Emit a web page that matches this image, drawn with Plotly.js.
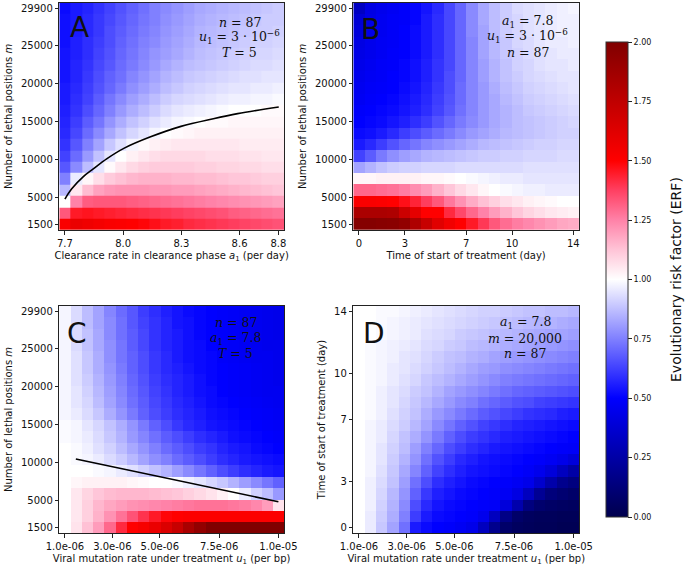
<!DOCTYPE html>
<html><head><meta charset="utf-8">
<script src="https://cdn.plot.ly/plotly-3.0.1.min.js"></script>
<style>html,body{margin:0;padding:0;background:#fff}#chart{width:688px;height:570px}</style>
</head><body><div id="chart"></div>
<script>
// ---- axis values (cell centres) ----
const aVals=[7.700,7.758,7.816,7.874,7.932,7.989,8.047,8.105,8.163,8.221,8.279,8.337,8.395,8.453,8.511,8.568,8.626,8.684,8.742,8.800];
const mVals=[1500,2995,4489,5984,7479,8974,10468,11963,13458,14953,16447,17942,19437,20932,22426,23921,25416,26911,28405,29900];
const tVals=[0,0.737,1.474,2.211,2.947,3.684,4.421,5.158,5.895,6.632,7.368,8.105,8.842,9.579,10.316,11.053,11.789,12.526,13.263,14];
const uVals=[1.000e-6,1.474e-6,1.947e-6,2.421e-6,2.895e-6,3.368e-6,3.842e-6,4.316e-6,4.789e-6,5.263e-6,5.737e-6,6.211e-6,6.684e-6,7.158e-6,7.632e-6,8.105e-6,8.579e-6,9.053e-6,9.526e-6,1.000e-5];

// ---- ERF grids, rows from bottom (first y value) to top ----
const erfA=[
[1.52,1.58,1.56,1.54,1.52,1.51,1.50,1.49,1.47,1.45,1.44,1.42,1.41,1.40,1.39,1.38,1.37,1.36,1.35,1.34],
[1.33,1.45,1.46,1.45,1.44,1.43,1.42,1.41,1.40,1.39,1.38,1.37,1.36,1.35,1.34,1.32,1.31,1.30,1.29,1.28],
[1.00,1.25,1.32,1.33,1.33,1.33,1.32,1.31,1.30,1.29,1.28,1.27,1.26,1.25,1.24,1.23,1.22,1.21,1.20,1.19],
[0.86,1.05,1.14,1.19,1.21,1.22,1.22,1.22,1.21,1.21,1.20,1.20,1.19,1.18,1.17,1.16,1.15,1.14,1.13,1.12],
[0.75,0.96,1.02,1.07,1.11,1.13,1.15,1.16,1.16,1.16,1.15,1.15,1.14,1.14,1.13,1.12,1.12,1.11,1.10,1.10],
[0.67,0.77,0.87,0.95,1.01,1.05,1.08,1.10,1.11,1.11,1.11,1.11,1.10,1.10,1.09,1.09,1.08,1.08,1.07,1.07],
[0.63,0.71,0.80,0.88,0.95,1.00,1.03,1.05,1.07,1.08,1.08,1.08,1.08,1.07,1.07,1.07,1.06,1.06,1.05,1.05],
[0.60,0.67,0.75,0.82,0.89,0.94,0.98,1.01,1.03,1.04,1.05,1.05,1.05,1.05,1.05,1.05,1.04,1.04,1.04,1.04],
[0.58,0.64,0.71,0.77,0.83,0.88,0.92,0.95,0.98,1.00,1.01,1.02,1.03,1.03,1.03,1.03,1.03,1.03,1.03,1.03],
[0.57,0.62,0.68,0.73,0.79,0.84,0.88,0.91,0.94,0.96,0.98,0.99,1.00,1.01,1.01,1.02,1.02,1.02,1.02,1.02],
[0.56,0.60,0.65,0.70,0.75,0.80,0.84,0.87,0.90,0.93,0.95,0.96,0.97,0.98,0.99,1.00,1.00,1.00,1.01,1.01],
[0.55,0.59,0.63,0.68,0.73,0.77,0.81,0.84,0.87,0.90,0.92,0.93,0.94,0.95,0.96,0.97,0.97,0.98,0.98,0.99],
[0.55,0.58,0.62,0.66,0.70,0.74,0.78,0.81,0.84,0.87,0.89,0.91,0.92,0.93,0.94,0.95,0.95,0.96,0.96,0.97],
[0.54,0.57,0.61,0.65,0.69,0.72,0.76,0.79,0.82,0.85,0.87,0.89,0.90,0.91,0.92,0.93,0.94,0.94,0.95,0.95],
[0.54,0.57,0.60,0.64,0.67,0.71,0.74,0.77,0.80,0.83,0.85,0.87,0.88,0.89,0.90,0.91,0.92,0.93,0.93,0.94],
[0.54,0.56,0.59,0.63,0.66,0.70,0.73,0.76,0.79,0.81,0.83,0.85,0.87,0.88,0.89,0.90,0.91,0.92,0.92,0.93],
[0.53,0.56,0.59,0.62,0.65,0.69,0.72,0.75,0.77,0.80,0.82,0.84,0.86,0.87,0.88,0.89,0.90,0.91,0.91,0.92],
[0.53,0.55,0.58,0.61,0.65,0.68,0.71,0.74,0.76,0.79,0.81,0.83,0.85,0.86,0.87,0.88,0.89,0.90,0.90,0.91],
[0.53,0.55,0.58,0.61,0.64,0.67,0.70,0.73,0.75,0.78,0.80,0.82,0.84,0.85,0.86,0.87,0.88,0.89,0.90,0.90],
[0.52,0.55,0.57,0.60,0.63,0.66,0.69,0.72,0.75,0.77,0.79,0.81,0.83,0.84,0.85,0.86,0.87,0.88,0.89,0.90]];

const erfB=[
[1.98,1.98,1.97,1.96,1.93,1.82,1.72,1.62,1.55,1.50,1.45,1.39,1.33,1.29,1.26,1.24,1.22,1.20,1.18,1.17],
[1.83,1.83,1.83,1.82,1.70,1.60,1.50,1.50,1.42,1.36,1.30,1.25,1.20,1.16,1.12,1.09,1.07,1.05,1.04,1.03],
[1.52,1.52,1.51,1.50,1.47,1.43,1.38,1.33,1.27,1.22,1.17,1.13,1.10,1.07,1.05,1.03,1.02,1.01,1.00,1.00],
[1.30,1.30,1.29,1.28,1.26,1.23,1.20,1.16,1.12,1.08,1.05,1.02,1.00,0.99,0.98,0.97,0.97,0.96,0.96,0.96],
[1.02,1.02,1.03,1.03,1.03,1.03,1.02,1.02,1.01,1.00,0.99,0.98,0.97,0.96,0.96,0.95,0.95,0.95,0.95,0.95],
[0.82,0.85,0.88,0.90,0.91,0.91,0.92,0.92,0.92,0.93,0.93,0.93,0.93,0.93,0.93,0.94,0.94,0.94,0.94,0.94],
[0.63,0.68,0.74,0.78,0.81,0.83,0.85,0.86,0.87,0.88,0.89,0.90,0.90,0.91,0.91,0.92,0.92,0.92,0.93,0.93],
[0.55,0.58,0.62,0.66,0.70,0.73,0.76,0.78,0.80,0.82,0.84,0.86,0.87,0.88,0.89,0.90,0.91,0.91,0.92,0.92],
[0.52,0.53,0.55,0.58,0.62,0.65,0.68,0.71,0.74,0.77,0.80,0.82,0.84,0.86,0.87,0.88,0.89,0.90,0.91,0.91],
[0.50,0.51,0.52,0.54,0.56,0.59,0.62,0.66,0.70,0.74,0.77,0.80,0.83,0.85,0.87,0.88,0.89,0.90,0.91,0.92],
[0.49,0.50,0.51,0.52,0.54,0.56,0.59,0.63,0.67,0.72,0.76,0.80,0.83,0.85,0.87,0.89,0.90,0.91,0.92,0.93],
[0.47,0.49,0.50,0.51,0.53,0.55,0.58,0.62,0.66,0.71,0.76,0.80,0.83,0.86,0.88,0.90,0.91,0.92,0.93,0.94],
[0.46,0.48,0.49,0.50,0.52,0.54,0.57,0.61,0.65,0.71,0.76,0.80,0.84,0.87,0.89,0.91,0.92,0.93,0.94,0.95],
[0.45,0.47,0.48,0.50,0.51,0.53,0.56,0.60,0.65,0.70,0.76,0.81,0.85,0.88,0.90,0.92,0.93,0.94,0.95,0.95],
[0.44,0.46,0.48,0.49,0.51,0.53,0.56,0.60,0.64,0.70,0.76,0.81,0.85,0.88,0.91,0.92,0.94,0.95,0.95,0.96],
[0.43,0.45,0.47,0.49,0.50,0.52,0.55,0.59,0.64,0.70,0.76,0.82,0.86,0.89,0.91,0.93,0.94,0.95,0.96,0.96],
[0.42,0.45,0.47,0.48,0.50,0.52,0.55,0.59,0.64,0.70,0.76,0.82,0.86,0.89,0.92,0.93,0.95,0.96,0.96,0.97],
[0.40,0.44,0.46,0.48,0.50,0.52,0.55,0.59,0.64,0.70,0.77,0.82,0.87,0.90,0.92,0.94,0.95,0.96,0.97,0.97],
[0.38,0.43,0.46,0.48,0.49,0.51,0.55,0.59,0.64,0.70,0.77,0.83,0.87,0.90,0.92,0.94,0.95,0.96,0.97,0.97],
[0.33,0.42,0.45,0.47,0.49,0.51,0.54,0.58,0.64,0.70,0.77,0.83,0.87,0.90,0.93,0.94,0.95,0.96,0.97,0.98]];

const erfC=[
[1.00,1.06,1.13,1.20,1.30,1.42,1.50,1.53,1.58,1.64,1.72,1.84,1.93,2.00,2.00,2.00,2.00,2.00,2.00,2.00],
[1.00,1.05,1.10,1.16,1.22,1.28,1.34,1.40,1.45,1.49,1.50,1.51,1.51,1.51,1.51,1.51,1.51,1.51,1.51,1.51],
[1.00,1.05,1.10,1.15,1.18,1.20,1.22,1.23,1.24,1.25,1.26,1.27,1.28,1.28,1.28,1.27,1.26,1.24,1.20,1.06],
[1.00,1.05,1.09,1.12,1.14,1.15,1.15,1.15,1.14,1.13,1.12,1.10,1.08,1.06,1.03,1.00,0.96,0.91,0.87,0.80],
[1.00,1.02,1.03,1.03,1.03,1.03,1.02,1.01,1.00,1.00,0.99,0.97,0.95,0.92,0.89,0.85,0.81,0.77,0.73,0.69],
[1.00,1.00,1.00,0.99,0.98,0.96,0.94,0.91,0.88,0.85,0.81,0.77,0.73,0.69,0.65,0.62,0.59,0.57,0.55,0.54],
[1.00,0.99,0.98,0.96,0.93,0.90,0.86,0.82,0.78,0.75,0.71,0.68,0.65,0.62,0.59,0.57,0.55,0.54,0.53,0.52],
[1.00,0.99,0.97,0.94,0.91,0.87,0.83,0.79,0.75,0.71,0.68,0.65,0.62,0.60,0.57,0.55,0.54,0.52,0.51,0.50],
[0.99,0.98,0.96,0.93,0.89,0.85,0.80,0.76,0.72,0.68,0.65,0.62,0.59,0.57,0.55,0.53,0.52,0.51,0.50,0.49],
[0.99,0.98,0.95,0.92,0.88,0.84,0.79,0.74,0.69,0.65,0.61,0.58,0.56,0.54,0.53,0.52,0.51,0.50,0.49,0.48],
[0.98,0.96,0.93,0.89,0.84,0.79,0.74,0.69,0.65,0.62,0.59,0.57,0.55,0.53,0.52,0.51,0.50,0.49,0.48,0.47],
[0.98,0.95,0.92,0.87,0.82,0.77,0.72,0.68,0.64,0.61,0.58,0.56,0.54,0.52,0.51,0.50,0.49,0.48,0.47,0.46],
[0.98,0.95,0.91,0.86,0.81,0.76,0.71,0.67,0.63,0.60,0.57,0.55,0.53,0.52,0.50,0.49,0.48,0.47,0.46,0.46],
[0.98,0.94,0.90,0.85,0.80,0.75,0.70,0.66,0.62,0.59,0.57,0.55,0.53,0.51,0.50,0.49,0.48,0.47,0.46,0.45],
[0.98,0.94,0.89,0.84,0.79,0.74,0.69,0.65,0.61,0.58,0.56,0.54,0.52,0.51,0.50,0.49,0.48,0.47,0.46,0.45],
[0.98,0.94,0.89,0.84,0.78,0.73,0.69,0.65,0.61,0.58,0.55,0.53,0.52,0.51,0.49,0.48,0.47,0.46,0.46,0.45],
[0.98,0.93,0.88,0.83,0.78,0.73,0.68,0.64,0.60,0.57,0.55,0.53,0.52,0.50,0.49,0.48,0.47,0.46,0.45,0.45],
[0.98,0.93,0.88,0.83,0.77,0.72,0.68,0.64,0.60,0.57,0.55,0.53,0.51,0.50,0.49,0.48,0.47,0.46,0.45,0.44],
[0.98,0.93,0.87,0.82,0.77,0.72,0.67,0.63,0.60,0.57,0.54,0.53,0.51,0.50,0.49,0.48,0.47,0.46,0.45,0.44],
[0.98,0.93,0.87,0.82,0.76,0.71,0.67,0.62,0.59,0.56,0.54,0.52,0.51,0.50,0.49,0.48,0.47,0.46,0.45,0.44]];

const erfD=[
[1.00,0.96,0.89,0.82,0.72,0.55,0.52,0.50,0.49,0.47,0.44,0.32,0.18,0.08,0.05,0.04,0.03,0.03,0.02,0.02],
[1.00,0.96,0.90,0.84,0.75,0.62,0.55,0.52,0.51,0.50,0.49,0.45,0.32,0.16,0.08,0.05,0.04,0.04,0.03,0.03],
[1.00,0.97,0.91,0.85,0.77,0.65,0.58,0.54,0.52,0.51,0.50,0.49,0.48,0.40,0.27,0.14,0.09,0.07,0.06,0.05],
[1.00,0.97,0.92,0.86,0.79,0.69,0.61,0.56,0.54,0.52,0.51,0.50,0.49,0.47,0.42,0.32,0.20,0.13,0.10,0.08],
[1.00,0.97,0.93,0.88,0.81,0.72,0.65,0.59,0.56,0.54,0.52,0.51,0.50,0.49,0.47,0.44,0.36,0.26,0.18,0.14],
[1.00,0.98,0.94,0.89,0.83,0.76,0.69,0.63,0.59,0.56,0.54,0.53,0.52,0.51,0.50,0.48,0.45,0.40,0.32,0.25],
[1.00,0.98,0.95,0.90,0.85,0.79,0.72,0.66,0.62,0.58,0.56,0.54,0.53,0.52,0.51,0.50,0.49,0.47,0.44,0.40],
[1.00,0.98,0.95,0.91,0.87,0.81,0.75,0.70,0.65,0.62,0.59,0.57,0.55,0.54,0.53,0.52,0.51,0.50,0.49,0.48],
[1.00,0.98,0.96,0.92,0.88,0.84,0.79,0.74,0.69,0.65,0.62,0.60,0.58,0.56,0.55,0.54,0.53,0.52,0.51,0.50],
[1.00,0.98,0.96,0.93,0.90,0.86,0.82,0.77,0.73,0.69,0.66,0.63,0.61,0.59,0.57,0.56,0.55,0.54,0.53,0.52],
[1.00,0.99,0.97,0.94,0.91,0.88,0.84,0.80,0.77,0.74,0.71,0.68,0.66,0.64,0.62,0.60,0.59,0.58,0.56,0.55],
[1.00,0.99,0.97,0.95,0.92,0.89,0.86,0.83,0.80,0.77,0.75,0.72,0.70,0.68,0.66,0.65,0.63,0.62,0.61,0.60],
[1.00,0.99,0.97,0.95,0.93,0.90,0.88,0.85,0.82,0.80,0.78,0.76,0.74,0.72,0.70,0.69,0.68,0.67,0.66,0.65],
[1.00,0.99,0.98,0.96,0.94,0.92,0.89,0.87,0.85,0.83,0.81,0.79,0.77,0.75,0.74,0.73,0.72,0.71,0.70,0.69],
[1.00,0.99,0.98,0.96,0.95,0.93,0.91,0.89,0.87,0.85,0.83,0.81,0.80,0.78,0.77,0.76,0.75,0.74,0.73,0.72],
[1.00,0.99,0.98,0.97,0.95,0.94,0.92,0.90,0.88,0.87,0.85,0.84,0.82,0.81,0.80,0.79,0.78,0.77,0.76,0.75],
[1.00,0.99,0.98,0.97,0.96,0.95,0.93,0.92,0.90,0.89,0.87,0.86,0.85,0.84,0.83,0.82,0.81,0.80,0.79,0.78],
[1.00,1.00,0.99,0.98,0.97,0.96,0.94,0.93,0.92,0.90,0.89,0.88,0.87,0.86,0.85,0.84,0.83,0.82,0.82,0.81],
[1.00,1.00,0.99,0.98,0.97,0.96,0.95,0.94,0.93,0.92,0.91,0.90,0.89,0.88,0.87,0.86,0.85,0.85,0.84,0.83],
[1.00,1.00,0.99,0.99,0.98,0.97,0.96,0.95,0.94,0.93,0.92,0.91,0.91,0.90,0.89,0.88,0.88,0.87,0.87,0.86]];

// ---- ERF = 1 boundary curves ----
const lineA_a=[7.70,7.734,7.795,7.846,7.915,8.006,8.138,8.298,8.465,8.59,8.802];
const lineA_m=[4824,6146,7776,8789,10110,11520,12974,14383,15396,16057,16938];
const lineC_u=[1.46e-6,5.74e-6,1.0e-5];
const lineC_m=[10500,7713,4900];

// ---- tick labels ----
const mTicks=[1500,5000,10000,15000,20000,25000,29900];
const mTickText=['1500','5000','10000','15000','20000','25000','29900'];
const aTicks=[7.7,8.0,8.3,8.6,8.8];
const aTickText=['7.7','8.0','8.3','8.6','8.8'];
const tTicks=[0,3,7,10,14];
const tTickText=['0','3','7','10','14'];
const uTicks=[1e-6,3e-6,5e-6,7.5e-6,1e-5];
const uTickText=['1.0e-06','3.0e-06','5.0e-06','7.5e-06','1.0e-05'];
const cbTicks=[0,0.25,0.5,0.75,1,1.25,1.5,1.75,2];
const cbTickText=['0.00','0.25','0.50','0.75','1.00','1.25','1.50','1.75','2.00'];

const W=688,H=570;
const dx=(a,b)=>[a/W,b/W];
const dy=(top,bot)=>[1-bot/H,1-top/H];
const FONT='DejaVu Sans';
const TF={family:FONT,size:10,color:'#111'};

function ax(domain,anchor,extra){
  return Object.assign({domain:domain,anchor:anchor,showline:true,mirror:true,linecolor:'#222',linewidth:1,
    ticks:'outside',ticklen:3.5,tickwidth:1,tickcolor:'#222',showgrid:false,zeroline:false,tickmode:'array',
    tickfont:TF},extra);
}

const traces=[
 {type:'heatmap',x:aVals,y:mVals,z:erfA,coloraxis:'coloraxis',xaxis:'x',yaxis:'y',hoverinfo:'skip'},
 {type:'heatmap',x:tVals,y:mVals,z:erfB,coloraxis:'coloraxis',xaxis:'x2',yaxis:'y2',hoverinfo:'skip'},
 {type:'heatmap',x:uVals,y:mVals,z:erfC,coloraxis:'coloraxis',xaxis:'x3',yaxis:'y3',hoverinfo:'skip'},
 {type:'heatmap',x:uVals,y:tVals,z:erfD,coloraxis:'coloraxis',xaxis:'x4',yaxis:'y4',hoverinfo:'skip'},
 {type:'scatter',mode:'lines',x:lineA_a,y:lineA_m,line:{color:'#000',width:1.6,shape:'spline'},xaxis:'x',yaxis:'y',showlegend:false},
 {type:'scatter',mode:'lines',x:lineC_u,y:lineC_m,line:{color:'#000',width:1.6},xaxis:'x3',yaxis:'y3',showlegend:false}
];

const mTitle='Number of lethal positions <i>m</i>';
const uTitle='Viral mutation rate under treatment <i>u</i><sub>1</sub> (per bp)';
const tTitle='Time of start of treatment (day)';

const layout={
 width:W,height:H,margin:{l:0,r:0,t:0,b:0},paper_bgcolor:'#fff',plot_bgcolor:'#fff',showlegend:false,
 font:{family:FONT,color:'#111'},
 coloraxis:{cmin:0,cmax:2,
   colorscale:[[0,'rgb(0,0,77)'],[0.25,'rgb(0,0,255)'],[0.5,'rgb(255,255,255)'],[0.5625,'rgb(255,196,215)'],
     [0.625,'rgb(255,130,168)'],[0.6875,'rgb(255,64,98)'],[0.75,'rgb(255,0,0)'],[1,'rgb(128,0,0)']],
   colorbar:{x:606/W,xanchor:'left',xpad:0,y:1-279.5/H,yanchor:'middle',ypad:0,len:475,lenmode:'pixels',
     thickness:22,thicknessmode:'pixels',outlinewidth:1,outlinecolor:'#333',ticks:'outside',ticklen:4,tickwidth:1,tickcolor:'#222',
     tickmode:'array',tickvals:cbTicks,ticktext:cbTickText,tickfont:{family:FONT,size:8,color:'#111'}}},
 xaxis:ax(dx(59.3,284),'y',{tickvals:aTicks,ticktext:aTickText,
   title:{text:'Clearance rate in clearance phase <i>a</i><sub>1</sub> (per day)',standoff:4,font:TF}}),
 yaxis:ax(dy(2.7,230),'x',{tickvals:mTicks,ticktext:mTickText,title:{text:mTitle,standoff:6,font:TF}}),
 xaxis2:ax(dx(353.3,578.9),'y2',{tickvals:tTicks,ticktext:tTickText,title:{text:tTitle,standoff:4,font:TF}}),
 yaxis2:ax(dy(2.7,230),'x2',{tickvals:mTicks,ticktext:mTickText,title:{text:mTitle,standoff:6,font:TF}}),
 xaxis3:ax(dx(59.3,284),'y3',{tickvals:uTicks,ticktext:uTickText,title:{text:uTitle,standoff:4,font:TF}}),
 yaxis3:ax(dy(305.7,533.3),'x3',{tickvals:mTicks,ticktext:mTickText,title:{text:mTitle,standoff:6,font:TF}}),
 xaxis4:ax(dx(353.3,579.3),'y4',{tickvals:uTicks,ticktext:uTickText,title:{text:uTitle,standoff:4,font:TF}}),
 yaxis4:ax(dy(305.7,533.3),'x4',{tickvals:tTicks,ticktext:tTickText,title:{text:tTitle,standoff:6,font:TF}}),
 annotations:[]
};

const SERIF='DejaVu Serif';
function note(xr,yr,xf,yf,text,size,fam){
  layout.annotations.push({xref:xr+' domain',yref:yr+' domain',x:xf,y:yf,xanchor:'center',yanchor:'middle',
    text:text,showarrow:false,font:{family:fam||SERIF,size:size||12.5,color:'#111'}});
}
// panel letters
note('x','y',0.088,0.891,'A',28,FONT);
note('x2','y2',0.078,0.884,'B',28,FONT);
note('x3','y3',0.079,0.88,'C',28,FONT);
note('x4','y4',0.09,0.88,'D',28,FONT);
// parameter labels
note('x','y',0.804,0.911,'<i>n</i> = 87');
note('x','y',0.804,0.849,'<i>u</i><sub>1</sub> = 3 · 10<sup>−6</sup>');
note('x','y',0.804,0.783,'<i>T</i> = 5');
note('x2','y2',0.774,0.919,'<i>a</i><sub>1</sub> = 7.8');
note('x2','y2',0.774,0.853,'<i>u</i><sub>1</sub> = 3 · 10<sup>−6</sup>');
note('x2','y2',0.774,0.783,'<i>n</i> = 87');
note('x3','y3',0.785,0.928,'<i>n</i> = 87');
note('x3','y3',0.785,0.858,'<i>a</i><sub>1</sub> = 7.8');
note('x3','y3',0.785,0.792,'<i>T</i> = 5');
note('x4','y4',0.76,0.928,'<i>a</i><sub>1</sub> = 7.8');
note('x4','y4',0.76,0.858,'<i>m</i> = 20,000');
note('x4','y4',0.76,0.792,'<i>n</i> = 87');
// colourbar title
layout.annotations.push({xref:'paper',yref:'paper',x:676/W,y:1-280/H,xanchor:'center',yanchor:'middle',textangle:-90,
  text:'Evolutionary risk factor (ERF)',showarrow:false,font:{family:FONT,size:14,color:'#111'}});

Plotly.newPlot('chart',traces,layout,{staticPlot:true,displayModeBar:false});
</script></body></html>
